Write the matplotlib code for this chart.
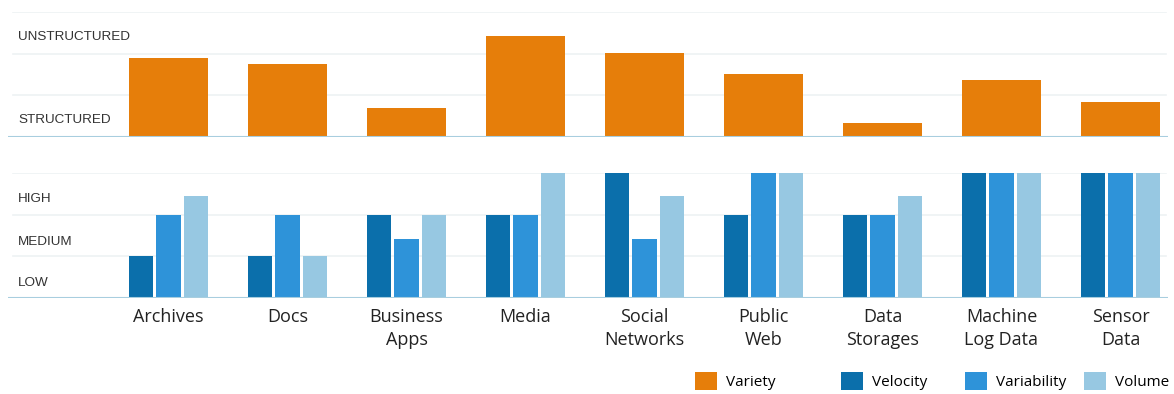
import matplotlib.pyplot as plt
from matplotlib.transforms import blended_transform_factory
import numpy as np

plt.rcParams['font.family'] = ['Open Sans', 'DejaVu Sans']

categories = ['Archives', 'Docs', 'Business\nApps', 'Media', 'Social\nNetworks',
              'Public\nWeb', 'Data\nStorages', 'Machine\nLog Data', 'Sensor\nData']
variety = [1.89, 1.75, 0.70, 2.42, 2.01, 1.51, 0.34, 1.37, 0.84]
velocity = [1, 1, 2, 2, 3, 2, 2, 3, 3]
variability = [2, 2, 1.42, 2, 1.42, 3, 2, 3, 3]
volume = [2.45, 1, 2, 3, 2.45, 3, 2.45, 3, 3]

top_labels = [(2.40, 'UNSTRUCTURED'), (0.41, 'STRUCTURED')]
bottom_labels = [(2.38, 'HIGH'), (1.34, 'MEDIUM'), (0.37, 'LOW')]

c_variety = '#E67E0A'
c_velocity = '#0B6FAB'
c_variability = '#2E93D9'
c_volume = '#97C8E2'
c_base = '#A8CEDF'
c_grid = '#EEF2F4'

W, H = 1174, 394
fig = plt.figure(figsize=(W / 100, H / 100), dpi=100)

def px_axes(x0, y_top, x1, y_bot):
    return fig.add_axes([x0 / W, (H - y_bot) / H, (x1 - x0) / W, (y_bot - y_top) / H])

x = np.arange(len(categories))
step = 119.0
xlim = (-(168.5 - 8) / step, (1168 - 168.5) / step)

ax_top = px_axes(8, 12, 1168, 137)
ax_bot = px_axes(8, 173, 1168, 298)

for ax in (ax_top, ax_bot):
    ax.set_xlim(*xlim)
    ax.set_ylim(0, 3)
    for s in ax.spines.values():
        s.set_visible(False)
    ax.set_yticks([])
    for lvl in (1, 2, 3):
        ax.axhline(lvl, color=c_grid, lw=1.2, xmin=0.004, xmax=0.9985, zorder=0)
    ax.axhline(0, color=c_base, lw=1.5, zorder=3)

# top panel
bar_variety = ax_top.bar(x, variety, width=79 / step, color=c_variety, zorder=2, label='Variety')
ax_top.set_xticks([])

# bottom panel
bw = 24.5 / step
off = 27.3 / step
bar_vel = ax_bot.bar(x - off, velocity, width=bw, color=c_velocity, zorder=2, label='Velocity')
bar_var = ax_bot.bar(x, variability, width=bw, color=c_variability, zorder=2, label='Variability')
bar_vol = ax_bot.bar(x + off, volume, width=bw, color=c_volume, zorder=2, label='Volume')
ax_bot.set_xticks(x)
ax_bot.set_xticklabels(categories, fontsize=13, color='#222222', linespacing=1.4)
ax_bot.tick_params(axis='x', length=0, pad=7)

for ax, labels in ((ax_top, top_labels), (ax_bot, bottom_labels)):
    tr = blended_transform_factory(fig.transFigure, ax.transData)
    for yv, txt in labels:
        ax.text(18 / W, yv, txt, transform=tr, fontsize=9.7, color='#333333',
                family='Liberation Sans', ha='left', va='center')

# legend, one entry per series
legend_x = [695, 841, 965, 1084]
for bars, lx in zip([bar_variety, bar_vel, bar_var, bar_vol], legend_x):
    fig.legend(handles=[bars], labels=[bars.get_label()], loc='center left',
               bbox_to_anchor=(lx / W, (H - 381) / H), frameon=False, fontsize=11,
               handlelength=1.45, handleheight=1.45, handletextpad=0.55,
               borderpad=0, borderaxespad=0)

fig.savefig('out.png', dpi=100)
